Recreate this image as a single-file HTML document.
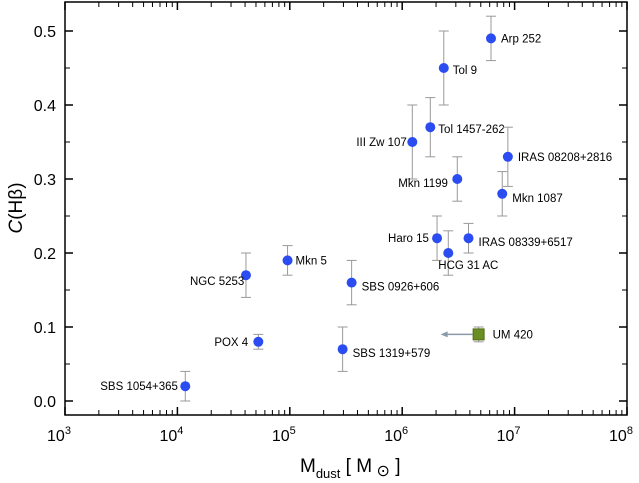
<!DOCTYPE html>
<html><head><meta charset="utf-8"><style>
body{margin:0;background:#fff;}
svg{display:block;font-family:"Liberation Sans",Arial,sans-serif;}
</style></head><body>
<svg id="chart" width="639" height="483" viewBox="0 0 639 483">
<g id="marks"></g>
<rect x="65" y="2" width="562" height="413" fill="none" stroke="#000" stroke-width="1.5"/>
<g id="axes"></g>
<text transform="translate(22,208) rotate(-90)" text-anchor="middle" font-size="19"><tspan font-style="italic">C</tspan>(Hβ)</text>
<text x="300" y="472" font-size="19">M<tspan font-size="13" dy="6">dust</tspan><tspan dy="-6"> [ M</tspan><tspan font-size="16" dy="4"> ⊙</tspan><tspan dy="-4"> ]</tspan></text>
</svg>
<script>
const names=["SBS 1054+365","POX 4","SBS 1319+579","NGC 5253","Mkn 5","SBS 0926+606","III Zw 107","Tol 1457-262","Tol 9","Arp 252","Mkn 1199","IRAS 08208+2816","Mkn 1087","Haro 15","HCG 31 AC","IRAS 08339+6517","UM 420"];
const logM=[4.07,4.72,5.47,4.61,4.98,5.55,6.09,6.25,6.37,6.79,6.49,6.94,6.89,6.31,6.41,6.59,6.68];
const cHb=[0.02,0.08,0.07,0.17,0.19,0.16,0.35,0.37,0.45,0.49,0.30,0.33,0.28,0.22,0.20,0.22,0.09];
const errLo=[0.0,0.07,0.04,0.14,0.17,0.13,0.30,0.33,0.40,0.46,0.27,0.29,0.25,0.19,0.17,0.20,0.08];
const errHi=[0.04,0.09,0.10,0.20,0.21,0.19,0.40,0.41,0.50,0.52,0.33,0.37,0.31,0.25,0.23,0.24,0.10];
const xTicks=[3,4,5,6,7,8];
const yTicks=["0.0","0.1","0.2","0.3","0.4","0.5"];
const labOff=[[-85,4],[-44,4],[10,8],[-56,10],[8,4],[10,8],[-56,4],[8,6],[9,6],[10,4],[-59,8],[10,4],[10,8],[-49,4],[-10,16],[10,8],[14,4]];
const NS="http://www.w3.org/2000/svg";
const X=v=>65+(v-3)*112.4, Y=v=>401-v*740;
function mk(t,a,p){const e=document.createElementNS(NS,t);for(const k in a)e.setAttribute(k,a[k]);(p||document.getElementById('marks')).appendChild(e);return e;}
const ax=document.getElementById('axes');
xTicks.forEach((d,i)=>{
 const x=X(d);
 const t=mk('line',{x1:x,x2:x,y1:415,y2:407,stroke:'#000','stroke-width':1.5},ax);
 
 const tx=mk('text',{x:x-6,y:441,'font-size':16,'text-anchor':'middle'},ax);
 
 tx.innerHTML='10<tspan font-size="11" dy="-7">'+d+'</tspan>';
 const t2=mk('line',{x1:x,x2:x,y1:2,y2:10,stroke:'#000','stroke-width':1.5},ax);
 
 if(i<xTicks.length-1)for(let m=2;m<10;m++){const xm=X(d+Math.log10(m));
  const a=mk('line',{x1:xm,x2:xm,y1:415,y2:410,stroke:'#000','stroke-width':1},ax);
  
  const b=mk('line',{x1:xm,x2:xm,y1:2,y2:7,stroke:'#000','stroke-width':1},ax);
  }
});
yTicks.forEach(s=>{
 const v=parseFloat(s),y=Y(v);
 [[65,73],[627,619]].forEach(([a,b])=>{const l=mk('line',{x1:a,x2:b,y1:y,y2:y,stroke:'#000','stroke-width':1.5},ax);
  });
 [[65,70],[627,622]].forEach(([a,b])=>{const l=mk('line',{x1:a,x2:b,y1:Y(v+0.05),y2:Y(v+0.05),stroke:'#000','stroke-width':1},ax);
  });
 const tx=mk('text',{x:56,y:y+6,'font-size':16,'text-anchor':'end'},ax);
 
 tx.textContent=s;
});
names.forEach((n,i)=>{
 const x=X(logM[i]),y=Y(cHb[i]);
 const g=mk('g',{});
 
 
 mk('line',{x1:x,x2:x,y1:Y(errLo[i]),y2:Y(errHi[i]),stroke:'#999','stroke-width':1},g);
 mk('line',{x1:x-5,x2:x+5,y1:Y(errLo[i]),y2:Y(errLo[i]),stroke:'#999','stroke-width':1},g);
 mk('line',{x1:x-5,x2:x+5,y1:Y(errHi[i]),y2:Y(errHi[i]),stroke:'#999','stroke-width':1},g);
 if(n==="UM 420"){
  mk('line',{x1:x-6,x2:x-34,y1:y,y2:y,stroke:'#8a9aa8','stroke-width':1.5},g);
  mk('path',{d:`M${x-38},${y} l7,-3 l0,6 z`,fill:'#8a9aa8'},g);
  mk('rect',{x:x-5.5,y:y-5.5,width:11,height:11,fill:'#6b8e23',stroke:'#556b1a'},g);
 } else mk('circle',{cx:x,cy:y,r:5,fill:'#2b4cf0'},g);
 const t=mk('text',{x:x+labOff[i][0],y:y+labOff[i][1],'font-size':11.5},g);
 t.textContent=n;
});
</script>
</body></html>
